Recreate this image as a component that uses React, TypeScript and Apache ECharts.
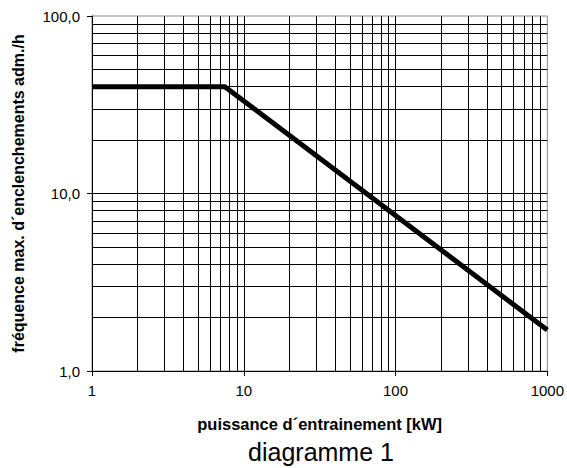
import React, { useEffect, useRef } from "react";
import * as echarts from "echarts";

const powerKW = [1, 7.5, 1000];
const frequency = [40, 40, 1.7];

const minorX = [2, 3, 4, 5, 6, 7, 8, 9, 20, 30, 40, 50, 60, 70, 80, 90, 200, 300, 400, 500, 600, 700, 800, 900];
const minorY = [2, 3, 4, 5, 6, 7, 8, 9, 20, 30, 40, 50, 60, 70, 80, 90];

const xAxisName = "puissance d´entrainement [kW]";
const yAxisName = "fréquence max. d´enclenchements adm./h";
const caption = "diagramme 1";

const FONT = "'Liberation Sans', Arial, sans-serif";

export default function App() {
  const ref = useRef<HTMLDivElement>(null);
  useEffect(() => {
    if (!ref.current) return;
    const chart = echarts.init(ref.current, undefined, { renderer: "svg" });
    const gridLine = { color: "#000", width: 1, type: "solid" as const };
    chart.setOption({
      animation: false,
      backgroundColor: "#fff",
      textStyle: { fontFamily: FONT },
      grid: {
        left: 92,
        right: 17,
        top: 16,
        bottom: 97,
        show: true,
        borderColor: "#888",
        borderWidth: 1,
      },
      graphic: [
        {
          type: "text",
          x: 321,
          y: 452,
          style: {
            text: caption,
            font: `25px ${FONT}`,
            fill: "#000",
            textAlign: "center",
            textVerticalAlign: "middle",
          },
        },
      ],
      xAxis: {
        type: "log",
        logBase: 10,
        min: 1,
        max: 1000,
        name: xAxisName,
        nameLocation: "middle",
        nameGap: 44,
        nameTextStyle: { fontSize: 16.5, fontWeight: "bold", color: "#000", fontFamily: FONT },
        axisLine: { show: true, lineStyle: { color: "#000", width: 1 } },
        axisTick: { show: true, length: 5, lineStyle: { color: "#000" } },
        axisLabel: {
          fontSize: 15,
          color: "#000",
          margin: 12,
          fontFamily: FONT,
          formatter: (v: number) => String(Math.round(v)),
        },
        splitLine: { show: true, showMaxLine: false, showMinLine: false, lineStyle: gridLine },
        minorTick: { show: false },
      },
      yAxis: {
        type: "log",
        logBase: 10,
        min: 1,
        max: 100,
        name: yAxisName,
        nameLocation: "middle",
        nameRotate: 90,
        nameGap: 66,
        nameTextStyle: { fontSize: 16, fontWeight: "bold", color: "#000", fontFamily: FONT },
        axisLine: { show: true, lineStyle: { color: "#000", width: 1 } },
        axisTick: { show: true, length: 5, lineStyle: { color: "#000" } },
        axisLabel: {
          fontSize: 15,
          color: "#000",
          margin: 12,
          fontFamily: FONT,
          formatter: (v: number) => v.toFixed(1).replace(".", ","),
        },
        splitLine: { show: true, showMaxLine: false, showMinLine: false, lineStyle: gridLine },
      },
      series: [
        {
          type: "line",
          name: "grid",
          data: [],
          silent: true,
          z: 1,
          markLine: {
            silent: true,
            symbol: ["none", "none"],
            label: { show: false },
            lineStyle: { color: "#000", width: 1, type: "solid" },
            emphasis: { disabled: true },
            data: [
              ...minorX.map((v) => ({ xAxis: v })),
              ...minorY.map((v) => ({ yAxis: v })),
            ],
          },
        },
        {
          type: "line",
          name: "frequence",
          z: 5,
          data: powerKW.map((x, i) => [x, frequency[i]]),
          showSymbol: false,
          symbol: "none",
          lineStyle: { color: "#000", width: 5, cap: "butt", join: "miter" },
        },
      ],
    });
    return () => chart.dispose();
  }, []);
  return <div ref={ref} style={{ width: 567, height: 468, position: "absolute", left: 0, top: 0 }} />;
}
